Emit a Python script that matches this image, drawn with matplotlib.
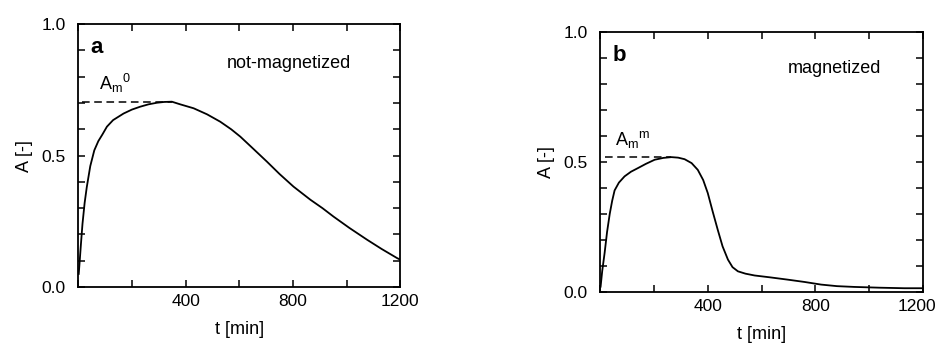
import matplotlib
matplotlib.use("Agg")
import matplotlib.pyplot as plt
import matplotlib.transforms as mtransforms
from matplotlib.ticker import MultipleLocator

plt.rcParams["font.family"] = ["Liberation Sans", "DejaVu Sans"]

# panel a: not-magnetized
t_a = [2, 5, 10, 16, 24, 32, 45, 60, 75, 90, 107, 130, 169, 200, 231, 262, 293, 320, 349,
       380, 430, 480, 529, 570, 604, 650, 703, 750, 802, 865, 910, 951, 1010, 1076, 1130, 1188, 1200]
A_a = [0.05, 0.09, 0.16, 0.24, 0.32, 0.38, 0.46, 0.52, 0.555, 0.58, 0.61, 0.635, 0.66, 0.675,
       0.686, 0.695, 0.701, 0.704, 0.705, 0.695, 0.68, 0.657, 0.629, 0.60, 0.572, 0.528, 0.477,
       0.43, 0.382, 0.332, 0.30, 0.268, 0.225, 0.18, 0.145, 0.11, 0.104]
peak_a_t = [15, 349]
peak_a_A = [0.705, 0.705]

# panel b: magnetized
t_b = [2, 8, 17, 26, 36, 45, 54, 70, 91, 115, 141, 170, 203, 235, 265, 290, 314, 340, 363,
       383, 400, 418, 437, 455, 475, 492, 512, 540, 574, 630, 697, 760, 821, 880, 944, 1040, 1130, 1200]
A_b = [0.02, 0.08, 0.15, 0.23, 0.30, 0.35, 0.39, 0.42, 0.444, 0.462, 0.476, 0.492, 0.508, 0.515,
       0.518, 0.516, 0.51, 0.495, 0.469, 0.43, 0.38, 0.31, 0.239, 0.175, 0.124, 0.095, 0.079,
       0.07, 0.063, 0.056, 0.047, 0.038, 0.028, 0.022, 0.019, 0.016, 0.014, 0.014]
peak_b_t = [17, 265]
peak_b_A = [0.518, 0.518]

panels = [
    dict(rect=[0.083, 0.168, 0.342, 0.762], t=t_a, A=A_a, pt=peak_a_t, pA=peak_a_A,
         letter="a", note="not-magnetized", note_x=784, note_y=0.85,
         am=r"$\mathregular{A_m}^{\mathregular{0}}$", am_x=76, am_y=0.775),
    dict(rect=[0.637, 0.154, 0.343, 0.754], t=t_b, A=A_b, pt=peak_b_t, pA=peak_b_A,
         letter="b", note="magnetized", note_x=870, note_y=0.86,
         am=r"$\mathregular{A_m}^{\mathregular{m}}$", am_x=57, am_y=0.584),
]

fig = plt.figure(figsize=(9.42, 3.45), dpi=100)

for i, p in enumerate(panels):
    ax = fig.add_axes(p["rect"])
    ax.plot(p["t"], p["A"], color="black", lw=1.3)
    ax.plot(p["pt"], p["pA"], color="black", lw=1.1, ls=(0, (5, 3)))
    ax.set_xlim(0, 1200)
    ax.set_ylim(0, 1.0)
    ax.set_xticks([400, 800, 1200])
    ax.xaxis.set_minor_locator(MultipleLocator(200))
    ax.set_yticks([0.0, 0.5, 1.0])
    ax.set_yticklabels(["0.0", "0.5", "1.0"])
    ax.yaxis.set_minor_locator(MultipleLocator(0.1))
    ax.tick_params(which="both", direction="in", top=True, right=True, labelsize=12.5)
    ax.tick_params(which="both", length=5, width=1.1)
    ax.tick_params(axis="y", pad=9)
    ax.tick_params(axis="x", pad=5)
    for s in ax.spines.values():
        s.set_linewidth(1.3)
    ax.set_xlabel("t [min]", fontsize=13, labelpad=9)
    ax.set_ylabel("A [-]", fontsize=13, labelpad=6)
    ax.text(45, 0.91, p["letter"], fontsize=16, fontweight="bold", va="center")
    ax.text(p["note_x"], p["note_y"], p["note"], fontsize=13, ha="center", va="center")
    ax.text(p["am_x"], p["am_y"], p["am"], fontsize=13, ha="left", va="center")
    if i == 1:
        # nudge the last tick label so it stays inside the figure
        fig.canvas.draw()
        last = ax.get_xticklabels()[-1]
        last.set_transform(last.get_transform() +
                           mtransforms.ScaledTranslation(-6 / 100, 0, fig.dpi_scale_trans))

fig.savefig("out.png", dpi=100)
